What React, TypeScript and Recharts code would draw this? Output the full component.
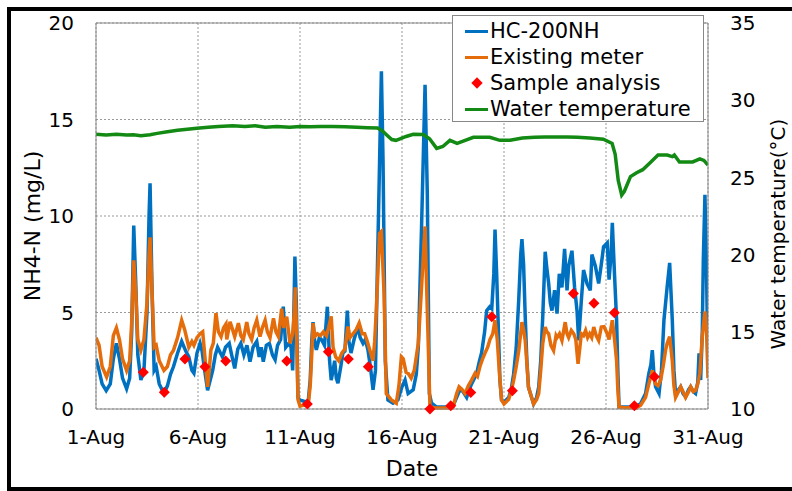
import {
  ComposedChart,
  Line,
  Scatter,
  XAxis,
  YAxis,
  CartesianGrid,
  ReferenceLine,
} from "recharts";

// day of August (fractional) -> NH4-N mg/L
const hc200: [number, number][] = [
  [1.0, 2.6], [1.15, 2.0], [1.3, 1.3], [1.5, 0.95], [1.7, 1.3], [1.85, 2.6], [2.0, 3.4], [2.15, 2.6],
  [2.3, 1.6], [2.5, 1.05], [2.65, 1.6], [2.75, 4.0], [2.85, 9.5], [2.95, 6.5], [3.05, 2.8], [3.2, 1.5],
  [3.35, 2.0], [3.5, 5.0], [3.6, 10.0], [3.65, 11.7], [3.75, 6.0], [3.85, 2.0], [3.95, 2.2], [4.1, 1.3],
  [4.33, 0.8], [4.5, 1.2], [4.65, 1.8], [4.8, 2.2], [5.0, 2.9], [5.2, 3.5], [5.4, 3.0], [5.55, 2.7],
  [5.7, 2.0], [5.8, 1.85], [5.95, 2.9], [6.1, 3.4], [6.2, 3.0], [6.3, 2.2], [6.47, 0.97], [6.6, 1.5],
  [6.72, 2.0], [6.85, 2.8], [6.96, 3.2], [7.1, 2.9], [7.2, 2.7], [7.35, 3.2], [7.53, 3.4], [7.65, 2.8],
  [7.8, 2.1], [7.95, 3.1], [8.1, 3.4], [8.25, 2.8], [8.4, 3.3], [8.55, 2.45], [8.7, 3.2], [8.88, 3.5],
  [9.0, 2.7], [9.1, 3.2], [9.2, 2.45], [9.35, 3.3], [9.5, 3.4], [9.65, 2.8], [9.78, 2.55], [9.9, 3.3],
  [10.05, 3.6], [10.18, 5.3], [10.3, 3.2], [10.45, 3.4], [10.56, 3.2], [10.64, 2.0], [10.7, 5.0], [10.75, 7.9],
  [10.82, 5.5], [10.9, 0.6], [11.0, 0.45], [11.2, 0.4], [11.4, 0.38], [11.5, 1.5], [11.58, 3.6], [11.64, 4.5],
  [11.72, 3.5], [11.8, 3.06], [11.95, 3.7], [12.05, 3.6], [12.2, 3.3], [12.34, 5.3], [12.45, 2.5], [12.53, 1.5],
  [12.62, 2.0], [12.7, 2.5], [12.78, 1.6], [12.86, 1.33], [13.0, 2.2], [13.1, 2.9], [13.2, 3.0], [13.32, 5.1],
  [13.4, 3.5], [13.5, 2.9], [13.65, 3.6], [13.84, 4.27], [13.95, 3.7], [14.09, 3.4], [14.2, 3.6], [14.33, 3.06],
  [14.45, 2.2], [14.58, 1.0], [14.7, 2.0], [14.77, 6.0], [14.87, 11.2], [14.99, 17.5], [15.07, 12.9], [15.18, 2.5],
  [15.31, 0.47], [15.56, 0.3], [15.8, 0.47], [16.0, 1.15], [16.15, 1.5], [16.3, 0.8], [16.55, 1.0], [16.7, 1.8],
  [16.8, 3.2], [16.96, 9.5], [17.13, 16.8], [17.24, 11.2], [17.34, 0.8], [17.45, 0.3], [17.7, 0.1], [18.0, 0.1],
  [18.3, 0.1], [18.5, 0.15], [18.68, 0.6], [18.8, 0.9], [18.92, 1.0], [19.05, 0.8], [19.17, 0.6], [19.3, 1.0],
  [19.41, 1.3], [19.55, 1.6], [19.66, 1.85], [19.8, 2.5], [19.9, 2.9], [20.05, 4.0], [20.15, 5.1], [20.3, 5.3],
  [20.4, 5.2], [20.5, 7.0], [20.56, 9.3], [20.64, 7.0], [20.72, 4.27], [20.8, 1.5], [20.88, 0.47], [21.0, 0.35],
  [21.23, 0.6], [21.35, 1.0], [21.47, 1.8], [21.6, 3.2], [21.72, 5.6], [21.82, 8.0], [21.88, 8.8], [21.96, 7.5],
  [22.04, 4.8], [22.12, 2.5], [22.2, 1.13], [22.45, 0.26], [22.6, 0.6], [22.7, 1.13], [22.8, 2.5], [22.9, 4.8],
  [23.02, 8.15], [23.1, 7.3], [23.19, 6.5], [23.27, 5.5], [23.35, 5.1], [23.48, 6.15], [23.6, 4.94], [23.71, 7.0],
  [23.84, 6.3], [23.97, 8.3], [24.09, 6.15], [24.17, 7.4], [24.33, 8.2], [24.46, 6.3], [24.58, 5.1], [24.66, 3.55],
  [24.79, 5.6], [24.9, 7.2], [25.07, 6.5], [25.23, 6.15], [25.31, 8.0], [25.48, 7.4], [25.64, 6.5], [25.77, 7.5],
  [25.88, 8.4], [26.06, 8.6], [26.15, 6.7], [26.25, 8.0], [26.31, 9.65], [26.42, 6.9], [26.52, 4.6], [26.58, 2.0],
  [26.64, 0.1], [26.9, 0.1], [27.2, 0.1], [27.5, 0.15], [27.7, 0.28], [27.94, 0.8], [28.1, 1.84], [28.2, 2.3],
  [28.27, 3.05], [28.35, 1.8], [28.43, 1.15], [28.6, 0.8], [28.72, 2.0], [28.84, 4.6], [29.0, 6.35], [29.12, 7.57],
  [29.25, 4.6], [29.33, 2.0], [29.41, 0.8], [29.55, 1.0], [29.66, 1.15], [29.78, 0.8], [29.9, 0.63], [30.05, 1.0],
  [30.15, 1.15], [30.28, 0.9], [30.39, 0.8], [30.5, 1.4], [30.56, 2.88], [30.64, 1.5], [30.72, 4.0], [30.77, 7.7],
  [30.85, 11.1], [30.93, 7.0], [31.0, 2.0],
];

const existing: [number, number][] = [
  [1.0, 3.7], [1.15, 3.3], [1.3, 2.2], [1.52, 1.66], [1.7, 2.2], [1.85, 3.8], [2.0, 4.2], [2.15, 3.6],
  [2.3, 2.6], [2.5, 2.0], [2.65, 2.5], [2.75, 4.5], [2.85, 7.7], [2.95, 6.0], [3.05, 3.6], [3.2, 3.05],
  [3.35, 3.6], [3.5, 5.5], [3.6, 8.0], [3.65, 8.9], [3.75, 6.0], [3.85, 3.2], [3.95, 3.3], [4.1, 2.5],
  [4.33, 2.0], [4.5, 2.2], [4.65, 2.8], [4.8, 3.05], [5.0, 3.7], [5.2, 4.6], [5.35, 4.1], [5.55, 3.2],
  [5.7, 3.5], [5.8, 3.3], [5.95, 3.7], [6.1, 3.9], [6.23, 4.0], [6.33, 2.8], [6.47, 1.15], [6.55, 2.0],
  [6.63, 3.05], [6.75, 3.4], [6.88, 4.97], [7.0, 4.0], [7.13, 3.75], [7.25, 4.2], [7.37, 4.4], [7.41, 3.6],
  [7.57, 4.52], [7.7, 4.1], [7.8, 3.75], [7.98, 4.45], [8.1, 3.8], [8.22, 3.6], [8.39, 4.5], [8.5, 3.9],
  [8.63, 3.6], [8.75, 4.2], [8.88, 4.6], [9.04, 3.75], [9.15, 4.2], [9.29, 4.6], [9.4, 4.0], [9.53, 3.7],
  [9.7, 4.7], [9.82, 4.0], [9.94, 3.75], [10.1, 5.2], [10.2, 4.2], [10.35, 4.78], [10.51, 3.4], [10.64, 3.9],
  [10.72, 5.0], [10.77, 6.3], [10.83, 4.0], [10.9, 0.5], [11.0, 0.15], [11.2, 0.2], [11.4, 0.2], [11.5, 1.2],
  [11.58, 2.9], [11.64, 4.45], [11.72, 3.75], [11.85, 3.9], [12.0, 3.8], [12.15, 4.0], [12.3, 3.8], [12.4, 4.2],
  [12.53, 4.8], [12.62, 3.2], [12.75, 2.7], [12.9, 2.5], [13.05, 2.9], [13.2, 3.1], [13.35, 4.27], [13.45, 3.7],
  [13.6, 3.9], [13.75, 4.1], [13.9, 4.45], [14.05, 3.9], [14.17, 3.9], [14.3, 3.5], [14.42, 3.06], [14.58, 2.5],
  [14.66, 3.5], [14.74, 5.1], [14.9, 9.1], [14.99, 9.2], [15.12, 6.0], [15.23, 0.8], [15.48, 0.47], [15.72, 0.3],
  [15.85, 1.2], [15.97, 2.7], [16.06, 2.6], [16.2, 1.9], [16.3, 1.85], [16.45, 1.6], [16.6, 2.0], [16.8, 3.4],
  [16.96, 6.35], [17.13, 9.46], [17.24, 5.1], [17.37, 0.12], [17.6, 0.05], [18.0, 0.05], [18.3, 0.05], [18.5, 0.1],
  [18.68, 0.8], [18.8, 1.15], [18.95, 1.0], [19.09, 0.8], [19.25, 1.2], [19.41, 1.5], [19.58, 1.85], [19.7, 1.7],
  [19.82, 2.2], [19.95, 2.6], [20.07, 2.9], [20.2, 3.2], [20.31, 3.6], [20.45, 3.9], [20.56, 4.6], [20.67, 3.6],
  [20.78, 1.8], [20.88, 0.47], [21.0, 0.26], [21.23, 0.5], [21.35, 0.9], [21.47, 1.47], [21.6, 2.2], [21.72, 3.0],
  [21.88, 4.5], [21.96, 4.1], [22.04, 3.55], [22.12, 2.4], [22.2, 1.13], [22.45, 0.26], [22.6, 0.5], [22.7, 0.8],
  [22.8, 2.0], [22.9, 3.4], [23.02, 4.25], [23.1, 4.0], [23.19, 3.9], [23.3, 3.3], [23.43, 3.03], [23.55, 3.8],
  [23.6, 3.7], [23.72, 3.9], [23.84, 3.55], [24.0, 4.5], [24.09, 3.9], [24.17, 3.7], [24.3, 4.07], [24.42, 3.9],
  [24.52, 3.6], [24.63, 2.34], [24.72, 3.2], [24.79, 3.9], [24.9, 3.8], [25.0, 4.07], [25.1, 3.7], [25.2, 3.9],
  [25.3, 3.7], [25.4, 4.25], [25.52, 3.8], [25.64, 3.55], [25.77, 4.25], [25.9, 4.27], [26.06, 3.9], [26.15, 3.6],
  [26.31, 4.6], [26.42, 3.6], [26.52, 2.5], [26.58, 1.0], [26.64, 0.1], [26.9, 0.07], [27.2, 0.07], [27.5, 0.07],
  [27.7, 0.2], [27.94, 0.6], [28.1, 1.3], [28.27, 2.0], [28.35, 1.6], [28.43, 1.3], [28.55, 1.2], [28.68, 1.5],
  [28.8, 2.2], [28.92, 3.05], [29.0, 3.4], [29.12, 3.75], [29.25, 2.5], [29.33, 1.2], [29.41, 0.6], [29.55, 0.9],
  [29.66, 1.15], [29.78, 0.9], [29.9, 0.6], [30.05, 0.9], [30.15, 1.15], [30.28, 0.9], [30.39, 0.97], [30.5, 1.3],
  [30.6, 1.84], [30.72, 3.75], [30.85, 5.05], [30.93, 4.0], [31.0, 1.6],
];

const samples: [number, number][] = [
  [3.32, 1.9], [4.35, 0.87], [5.36, 2.59], [6.34, 2.19], [7.36, 2.49], [10.35, 2.49], [11.36, 0.26],
  [12.39, 2.97], [13.37, 2.59], [14.35, 2.19], [17.37, 0.0], [18.39, 0.17], [19.37, 0.86], [20.4, 4.78],
  [21.41, 0.95], [24.4, 5.99], [25.41, 5.48], [26.41, 4.99], [27.39, 0.17], [28.37, 1.67],
];

// day -> water temperature degC
const waterTemp: [number, number][] = [
  [1.0, 27.8], [1.5, 27.75], [2.0, 27.8], [2.5, 27.75], [2.83, 27.76], [3.2, 27.7], [3.65, 27.76], [4.0, 27.85],
  [4.5, 27.96], [5.0, 28.05], [5.95, 28.18], [6.5, 28.25], [7.0, 28.3], [7.7, 28.35], [8.3, 28.3], [8.8, 28.35],
  [9.3, 28.25], [9.86, 28.3], [10.5, 28.25], [11.0, 28.3], [11.5, 28.28], [12.0, 28.3], [12.6, 28.3], [13.2, 28.28],
  [13.8, 28.25], [14.3, 28.22], [14.8, 28.2], [15.05, 28.0], [15.25, 27.75], [15.5, 27.45], [15.7, 27.4], [15.9, 27.5],
  [16.2, 27.65], [16.55, 27.79], [17.04, 27.78], [17.35, 27.5], [17.7, 26.88], [18.0, 27.0], [18.35, 27.4], [18.7, 27.2],
  [19.0, 27.35], [19.5, 27.6], [20.3, 27.6], [20.8, 27.4], [21.3, 27.4], [21.9, 27.55], [22.5, 27.6], [23.0, 27.62],
  [23.6, 27.62], [24.1, 27.62], [24.6, 27.6], [25.2, 27.55], [25.87, 27.47], [26.3, 27.2], [26.45, 26.5], [26.6, 24.8],
  [26.77, 23.86], [26.9, 24.1], [27.2, 25.05], [27.5, 25.3], [27.8, 25.5], [28.2, 26.0], [28.55, 26.45], [29.0, 26.45],
  [29.25, 26.35], [29.35, 26.45], [29.6, 26.0], [30.25, 26.0], [30.6, 26.2], [30.8, 26.1], [31.0, 25.8],
];

const dayTicks = [1, 6, 11, 16, 21, 26, 31];
const nh4Ticks = [0, 5, 10, 15, 20];
const tempTicks = [10, 15, 20, 25, 30, 35];

const BLUE = "#0070C0";
const ORANGE = "#E46C0A";
const GREEN = "#138A13";
const RED = "#FF0000";
const FONT = "'DejaVu Sans', sans-serif";

const toPts = (arr: [number, number][]) => arr.map(([d, v]) => ({ d, v }));

const Diamond = (props: any) => {
  const { cx, cy } = props;
  if (cx == null || cy == null) return null;
  const r = 5.5;
  return <polygon points={`${cx},${cy - r} ${cx + r},${cy} ${cx},${cy + r} ${cx - r},${cy}`} fill={RED} />;
};

const tickStyle = { fill: "#000", fontSize: 20, fontFamily: FONT };

export default function App() {
  const legendRows = [
    { label: "HC-200NH", kind: "line", color: BLUE },
    { label: "Existing meter", kind: "line", color: ORANGE },
    { label: "Sample analysis", kind: "dot", color: RED },
    { label: "Water temperature", kind: "line", color: GREEN },
  ];

  return (
    <div style={{ position: "absolute", left: 0, top: 0, width: 792, height: 491, background: "#fff", overflow: "hidden", fontFamily: FONT }}>
      <ComposedChart width={792} height={491} margin={{ top: 23, right: 24, bottom: 52, left: 36 }}>
        <CartesianGrid yAxisId="l" stroke="#999" strokeDasharray="2 2" />
        <XAxis
          dataKey="d"
          type="number"
          domain={[1, 31]}
          ticks={dayTicks}
          tickFormatter={(d: number) => `${d}-Aug`}
          allowDataOverflow
          height={30}
          axisLine={{ stroke: "#888" }}
          tickLine={false}
          tickSize={0}
          tickMargin={21}
          tick={tickStyle}
        />
        <YAxis
          yAxisId="l"
          domain={[0, 20]}
          ticks={nh4Ticks}
          width={60}
          axisLine={{ stroke: "#888" }}
          tickLine={false}
          tickSize={0}
          tickMargin={22}
          tick={tickStyle}
        />
        <YAxis
          yAxisId="r"
          orientation="right"
          domain={[10, 35]}
          ticks={tempTicks}
          width={60}
          axisLine={{ stroke: "#888" }}
          tickLine={false}
          tickSize={0}
          tickMargin={22}
          tick={tickStyle}
        />
        <ReferenceLine yAxisId="l" y={20} stroke="#888" />
        <Line yAxisId="l" data={toPts(hc200)} dataKey="v" type="linear" stroke={BLUE} strokeWidth={3.5} dot={false} isAnimationActive={false} />
        <Line yAxisId="l" data={toPts(existing)} dataKey="v" type="linear" stroke={ORANGE} strokeWidth={3.5} dot={false} isAnimationActive={false} />
        <Scatter yAxisId="l" data={toPts(samples)} dataKey="v" shape={Diamond} isAnimationActive={false} />
        <Line yAxisId="r" data={toPts(waterTemp)} dataKey="v" type="linear" stroke={GREEN} strokeWidth={3.5} dot={false} isAnimationActive={false} />
      </ComposedChart>

      {/* legend */}
      <div style={{ position: "absolute", left: 452, top: 15, width: 252, height: 107, boxSizing: "border-box", border: "1px solid #888", background: "#fff" }}>
        {legendRows.map((r, i) => (
          <div key={r.label} style={{ position: "absolute", left: 0, top: 15 + i * 26 - 13, height: 26, width: 250 }}>
            {r.kind === "line" ? (
              <div style={{ position: "absolute", left: 12, top: 12, width: 23, height: 3, background: r.color }} />
            ) : (
              <div style={{ position: "absolute", left: 20, top: 9, width: 8, height: 8, background: r.color, transform: "rotate(45deg)" }} />
            )}
            <div style={{ position: "absolute", left: 37, top: 0, lineHeight: "26px", fontSize: 21, whiteSpace: "nowrap", color: "#000" }}>{r.label}</div>
          </div>
        ))}
      </div>

      {/* axis titles */}
      <div style={{ position: "absolute", left: 32, top: 226, transform: "translate(-50%, -50%) rotate(-90deg)", fontSize: 22, whiteSpace: "nowrap" }}>
        NH4-N (mg/L)
      </div>
      <div style={{ position: "absolute", left: 778, top: 234, transform: "translate(-50%, -50%) rotate(-90deg)", fontSize: 20, whiteSpace: "nowrap" }}>
        Water temperature(°C)
      </div>
      <div style={{ position: "absolute", left: 412, top: 468, transform: "translate(-50%, -50%)", fontSize: 22, whiteSpace: "nowrap" }}>
        Date
      </div>

      {/* outer frame (no right edge in the reference) */}
      <div style={{ position: "absolute", left: 7, top: 7, width: 800, height: 484, boxSizing: "border-box", borderTop: "4px solid #000", borderLeft: "4px solid #000", borderBottom: "4px solid #000", pointerEvents: "none" }} />
    </div>
  );
}
